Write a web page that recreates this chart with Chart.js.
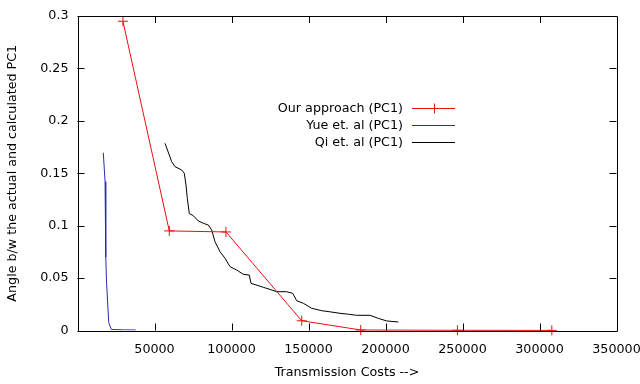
<!DOCTYPE html>
<html>
<head>
<meta charset="utf-8">
<script src="https://cdn.jsdelivr.net/npm/chart.js@4/dist/chart.umd.min.js"></script>
<style>
  html, body { margin: 0; padding: 0; background: #fff; }
  #wrap { width: 640px; height: 384px; }
</style>
</head>
<body>
<div id="wrap"><canvas id="angle-chart"></canvas></div>
<script>
'use strict';

// Our approach (PC1)
const oursX = [29500, 59600, 96400, 145600, 183900, 246700, 308000];
const oursY = [0.295, 0.095, 0.094, 0.0093, 0.0005, 0.0002, 0.0001];

// Yue et. al (PC1)
const yueX = [16750, 17900, 18200, 18500, 18900, 20300, 22000, 30000, 37800];
const yueY = [0.1696, 0.142, 0.1, 0.07, 0.045, 0.0075, 0.001, 0.0006, 0.0005];

// Qi et. al (PC1)
const qiX = [56820, 61170, 63310, 67660, 69350, 70450, 71300, 72600, 75200, 78440, 81690, 84930,
    87140, 89290, 92530, 95780, 99030, 103380, 107660, 111560, 112660, 116500, 120650, 125000,
    129340, 135830, 139730, 142330, 146620, 152070, 158560, 164500, 170450, 176000, 181270,
    189920, 195330, 200780, 208320];
const qiY = [0.1786, 0.161, 0.1563, 0.1531, 0.15, 0.1388, 0.126, 0.1116, 0.1095, 0.1045, 0.1023, 0.1006,
    0.0959, 0.0847, 0.0752, 0.0689, 0.0609, 0.0577, 0.0536, 0.0529, 0.045, 0.0432, 0.0412, 0.0392,
    0.037, 0.037, 0.0355, 0.0284, 0.026, 0.0212, 0.0189, 0.0177, 0.0164, 0.0155, 0.0145,
    0.0145, 0.0116, 0.0091, 0.0081];

const xTickLabels = ['', '50000', '100000', '150000', '200000', '250000', '300000', '350000'];
const yTickLabels = ['0', '0.05', '0.1', '0.15', '0.2', '0.25', '0.3'];

const FONT = 'DejaVu Sans';
const FONT_SIZE = 12.7;

function toPoints(xs, ys) {
    return xs.map((x, i) => ({x: x, y: ys[i]}));
}

// gnuplot style frame with inward ticks on all four sides
const framePlugin = {
    id: 'frame',
    afterDraw(chart) {
        const {ctx, chartArea: a, scales} = chart;
        ctx.save();
        ctx.strokeStyle = '#000';
        ctx.lineWidth = 1;
        ctx.beginPath();
        ctx.rect(Math.round(a.left) + 0.5, Math.round(a.top) + 0.5,
            Math.round(a.right - a.left), Math.round(a.bottom - a.top));
        scales.x.ticks.forEach(t => {
            const px = Math.round(scales.x.getPixelForValue(t.value)) + 0.5;
            if (px <= a.left + 1 || px >= a.right - 1) return;
            ctx.moveTo(px, a.bottom); ctx.lineTo(px, a.bottom - 7);
            ctx.moveTo(px, a.top); ctx.lineTo(px, a.top + 7);
        });
        scales.y.ticks.forEach(t => {
            const py = Math.round(scales.y.getPixelForValue(t.value)) + 0.5;
            ctx.moveTo(a.left, py); ctx.lineTo(a.left + 7, py);
            ctx.moveTo(a.right, py); ctx.lineTo(a.right - 7, py);
        });
        ctx.stroke();
        ctx.restore();
    }
};

// key: right-aligned label followed by a line sample
const keyPlugin = {
    id: 'key',
    afterDraw(chart) {
        const ctx = chart.ctx;
        const textRight = 403, lineL = 412, lineR = 455;
        const rows = [108, 125, 142];
        ctx.save();
        ctx.font = FONT_SIZE + 'px "' + FONT + '"';
        ctx.textAlign = 'right';
        ctx.textBaseline = 'middle';
        chart.data.datasets.forEach((ds, i) => {
            const y = rows[i] + 0.5;
            ctx.fillStyle = '#000';
            ctx.fillText(ds.label, textRight, y);
            ctx.strokeStyle = ds.borderColor;
            ctx.lineWidth = 1;
            ctx.beginPath();
            ctx.moveTo(lineL, y); ctx.lineTo(lineR, y);
            if (ds.pointStyle === 'cross') {
                const cx = Math.round((lineL + lineR) / 2) + 0.5;
                ctx.moveTo(cx, y - 5); ctx.lineTo(cx, y + 5);
            }
            ctx.stroke();
        });
        ctx.restore();
    }
};

Chart.defaults.font.family = FONT;
Chart.defaults.font.size = FONT_SIZE;
Chart.defaults.color = '#000';

const ctx = document.getElementById('angle-chart').getContext('2d');
new Chart(ctx, {
    type: 'scatter',
    data: {
        datasets: [
            {
                label: 'Our approach (PC1)',
                data: toPoints(oursX, oursY),
                showLine: true,
                clip: false,
                borderColor: '#e81010',
                backgroundColor: '#e81010',
                borderWidth: 1,
                pointStyle: 'cross',
                pointRadius: 5,
                pointBorderWidth: 1,
            },
            {
                label: 'Yue et. al (PC1)',
                data: toPoints(yueX, yueY),
                showLine: true,
                borderColor: '#2a2ab0',
                borderWidth: 1,
                pointRadius: 0,
            },
            {
                label: 'Qi et. al (PC1)',
                data: toPoints(qiX, qiY),
                showLine: true,
                borderColor: '#000',
                borderWidth: 1,
                pointRadius: 0,
            },
        ],
    },
    options: {
        responsive: true,
        maintainAspectRatio: false,
        animation: false,
        events: [],
        layout: {padding: {top: 16, right: 23.5, left: 0, bottom: 0}},
        plugins: {
            legend: {display: false},
            tooltip: {enabled: false},
        },
        scales: {
            x: {
                type: 'linear',
                min: 0,
                max: 350000,
                border: {display: false},
                grid: {display: false, drawTicks: false},
                ticks: {
                    stepSize: 50000,
                    padding: 12,
                    maxRotation: 0,
                    autoSkip: false,
                    callback: (v, i) => xTickLabels[i],
                },
                title: {
                    display: true,
                    text: 'Transmission Costs -->',
                    padding: {top: 0, bottom: 4},
                },
                afterFit: scale => {
                    scale.height = 53.5;
                    scale.paddingLeft = 0;
                    scale.paddingRight = 0;
                },
            },
            y: {
                type: 'linear',
                min: 0,
                max: 0.3,
                border: {display: false},
                grid: {display: false, drawTicks: false},
                ticks: {
                    stepSize: 0.05,
                    padding: 9,
                    callback: (v, i) => yTickLabels[i],
                },
                title: {
                    display: true,
                    text: 'Angle b/w the actual and calculated PC1',
                    padding: {top: 5, bottom: 0},
                },
                afterFit: scale => {
                    scale.width = 77.5;
                    scale.paddingTop = 0;
                    scale.paddingBottom = 0;
                },
            },
        },
    },
    plugins: [framePlugin, keyPlugin],
});
</script>
</body>
</html>
